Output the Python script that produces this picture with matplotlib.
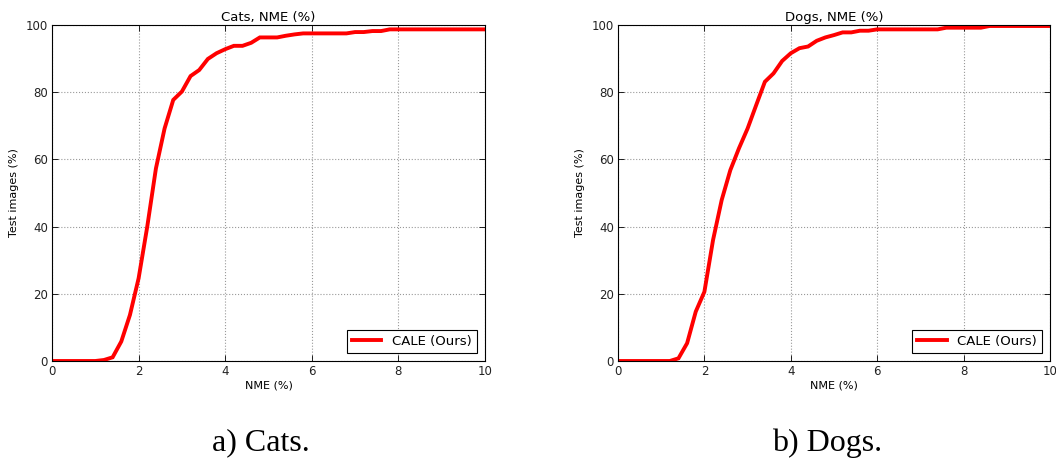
import matplotlib
matplotlib.use("Agg")
import matplotlib.pyplot as plt
import numpy as np

nme = [0.0, 0.2, 0.4, 0.6, 0.8, 1.0, 1.2, 1.4, 1.6, 1.8, 2.0, 2.2, 2.4, 2.6, 2.8,
       3.0, 3.2, 3.4, 3.6, 3.8, 4.0, 4.2, 4.4, 4.6, 4.8, 5.0, 5.2, 5.4, 5.6, 5.8,
       6.0, 6.2, 6.4, 6.6, 6.8, 7.0, 7.2, 7.4, 7.6, 7.8, 8.0, 8.2, 8.4, 8.6, 8.8,
       9.0, 9.2, 9.4, 9.6, 9.8, 10.0]

cats = [0, 0, 0, 0, 0, 0, 0.3, 1.1, 5.8, 13.7, 24.6, 40.0, 57.3, 69.2, 77.7,
        80.2, 84.8, 86.6, 89.9, 91.6, 92.8, 93.8, 93.8, 94.7, 96.3, 96.3, 96.3, 96.8, 97.2, 97.5,
        97.5, 97.5, 97.5, 97.5, 97.5, 97.9, 97.9, 98.2, 98.2, 98.7, 98.7, 98.7, 98.7, 98.7, 98.7,
        98.7, 98.7, 98.7, 98.7, 98.7, 98.7]

dogs = [0, 0, 0, 0, 0, 0, 0, 0.8, 5.3, 14.7, 20.6, 36.0, 47.9, 56.8, 63.3,
        69.2, 76.2, 83.1, 85.6, 89.3, 91.6, 93.1, 93.6, 95.3, 96.3, 97.0, 97.8, 97.8, 98.3, 98.3,
        98.7, 98.7, 98.7, 98.7, 98.7, 98.7, 98.7, 98.7, 99.2, 99.2, 99.2, 99.2, 99.2, 99.7, 99.7,
        99.7, 99.7, 99.7, 99.7, 99.7, 99.7]

titles = ["Cats, NME (%)", "Dogs, NME (%)"]
captions = ["a) Cats.", "b) Dogs."]
series = [cats, dogs]
legend_label = "CALE (Ours)"
xticks = [0, 2, 4, 6, 8, 10]
yticks = [0, 20, 40, 60, 80, 100]

W, H = 1056, 459
fig = plt.figure(figsize=(W / 100, H / 100), dpi=100)
fig.patch.set_facecolor("white")

boxes = [(52, 25, 485, 361), (618, 25, 1050, 361)]
cap_x = [261, 827]

for i, (l, t, r, b) in enumerate(boxes):
    ax = fig.add_axes([l / W, 1 - b / H, (r - l) / W, (b - t) / H])
    ax.plot(nme, series[i], color="#ff0000", lw=2.8, label=legend_label, solid_joinstyle="miter")
    ax.set_xlim(0, 10)
    ax.set_ylim(0, 100)
    ax.set_xticks(xticks)
    ax.set_yticks(yticks)
    ax.tick_params(direction="in", top=True, right=True, labelsize=8.5, length=4, width=0.6, pad=3,
                   labelcolor="#222222")
    ax.grid(True, linestyle=":", color="#999999", lw=0.8)
    for s in ax.spines.values():
        s.set_linewidth(0.8)
    ax.set_title(titles[i], fontsize=9.5, pad=3)
    ax.set_xlabel("NME (%)", fontsize=8, labelpad=2)
    ax.set_ylabel("Test images (%)", fontsize=8, labelpad=5)
    leg = ax.legend(loc="lower right", fontsize=9.5, fancybox=False, framealpha=1,
                    edgecolor="black", handlelength=2.2, borderaxespad=0.6)
    leg.get_frame().set_linewidth(0.8)
    fig.text(cap_x[i] / W, 1 - 443 / H, captions[i], ha="center", va="center",
             fontsize=23, family="Liberation Serif")

fig.savefig("out.png", dpi=100)
